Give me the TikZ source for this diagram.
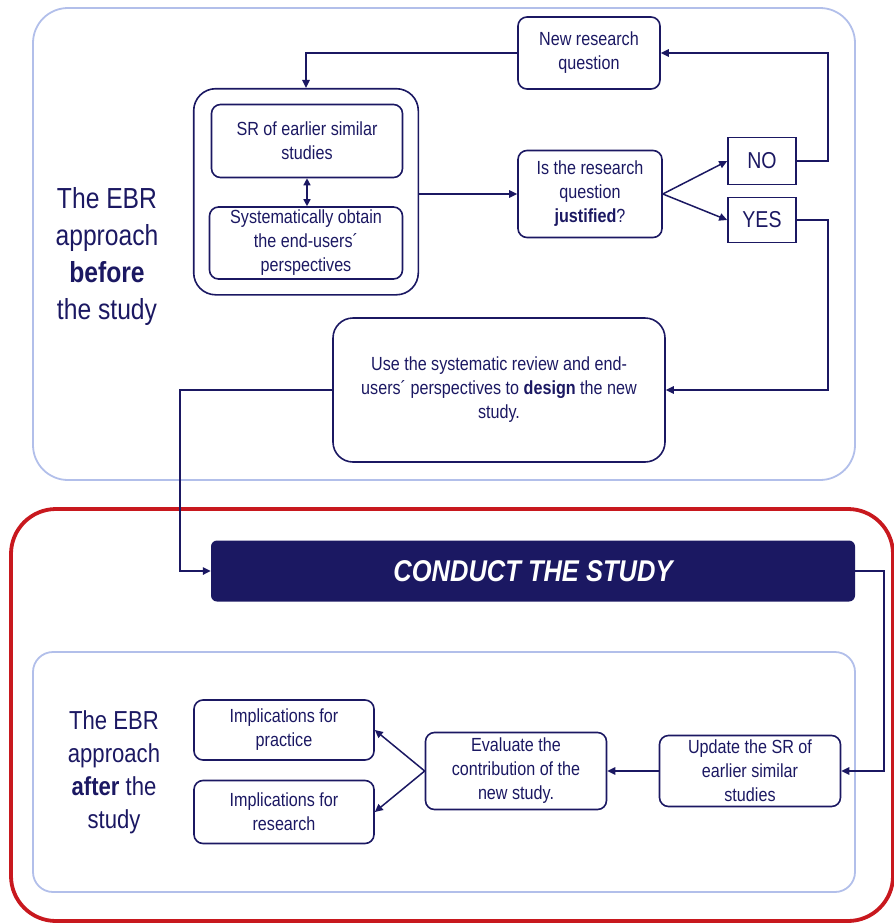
\documentclass[tikz,border=0pt]{standalone}
\usepackage{fontspec}
\setmainfont{Liberation Sans}[FakeStretch=0.85]
\usetikzlibrary{arrows.meta,fit}
\definecolor{ebrnavy}{HTML}{1B1862}
\definecolor{ebrframe}{HTML}{B2BFEA}
\definecolor{ebrred}{HTML}{C8181E}
\tikzset{
  box/.style={draw=ebrnavy, line width=1.6pt, rounded corners=9pt, align=center, text=ebrnavy, font=\fontsize{19}{24}\selectfont, inner sep=0pt},
  answer/.style={draw=ebrnavy, line width=1.6pt, align=center, text=ebrnavy, font=\fontsize{23}{27}\selectfont, minimum width=68pt, inner sep=0pt},
  flow/.style={draw=ebrnavy, line width=1.5pt, -{Triangle[length=8pt,width=7.5pt]}},
  frame/.style={draw=ebrframe, line width=1.8pt},
  phase/.style={align=center, text=ebrnavy},
}
\begin{document}
\begin{tikzpicture}[x=1pt,y=-1pt]
		\useasboundingbox (0,0) rectangle (894,924);
		
		% frames
		\draw[frame, rounded corners=35pt] (33,8) rectangle (855,480);
		\draw[draw=ebrred, line width=3.8pt, rounded corners=45pt] (11,509) rectangle (893,921);
		\draw[frame, rounded corners=20pt] (33,652) rectangle (855,892);
		
		\node[phase, font=\fontsize{29}{37}\selectfont] (before) at (107,256) {The EBR\\approach\\\textbf{before}\\the study};
		\node[phase, font=\fontsize{26}{33}\selectfont] (after) at (114,772) {The EBR\\approach\\\textbf{after} the\\study};
		
		% before the study
		\node[box, minimum width=142pt, minimum height=72pt] (newq) at (589,53) {New research\\question};
		\node[box, minimum width=191pt, minimum height=73pt] (sr) at (307,141) {SR of earlier similar\\studies};
		\node[box, minimum width=193pt, minimum height=72pt] (obtain) at (306,243) {Systematically obtain\\the end-users´\\perspectives};
		\node[box, fit=(sr)(obtain), inner sep=15pt, rounded corners=22pt] (group) {};
		\node[box, minimum width=144pt, minimum height=87pt] (justified) at (590,194) {Is the research\\question\\\textbf{justified}?};
		\node[answer, minimum height=47pt] (no) at (762,161) {NO};
		\node[answer, minimum height=45pt] (yes) at (762,220) {YES};
		\node[box, minimum width=332pt, minimum height=144pt, rounded corners=20pt] (use) at (499,390) {Use the systematic review and end-\\users´ perspectives to \textbf{design} the new\\study.};
		
		\node[fill=ebrnavy, rounded corners=6pt, minimum width=644pt, minimum height=61pt, text=white, font=\fontsize{30}{36}\selectfont\bfseries\itshape] (conduct) at (533,571) {CONDUCT THE STUDY};
		
		% after the study
		\node[box, minimum width=181pt, minimum height=71pt] (update) at (750,771) {Update the SR of\\earlier similar\\studies};
		\node[box, minimum width=181pt, minimum height=77pt] (evaluate) at (516,771) {Evaluate the\\contribution of the\\new study.};
		\node[box, minimum width=180pt, minimum height=60pt] (practice) at (284,730) {Implications for\\practice};
		\node[box, minimum width=180pt, minimum height=63pt] (research) at (284,812) {Implications for\\research};
		
		\draw[flow] (no.east) -- ++(31,0) |- (newq.east);
		\draw[flow] (newq.west) -| (group.north);
		\draw[flow] (justified.west -| group.east) -- (justified.west);
		\draw[flow, {Triangle[length=7pt,width=7pt]}-{Triangle[length=7pt,width=7pt]}] (sr.south) -- (sr.south |- obtain.north);
		\foreach \to in {no,yes}
		\draw[flow] (justified.east) -- (\to.west);
		\draw[flow] (yes.east) -- ++(31,0) |- (use.east);
		\draw[flow] (use.west) -- ++(-152,0) |- (conduct.west);
		\draw[flow] (conduct.east) -- ++(29,0) |- (update.east);
		\draw[flow] (update.west) -- (evaluate.east);
		\foreach \to in {practice,research}
		\draw[flow] (evaluate.west) -- (\to.east);
\end{tikzpicture}
\end{document}
